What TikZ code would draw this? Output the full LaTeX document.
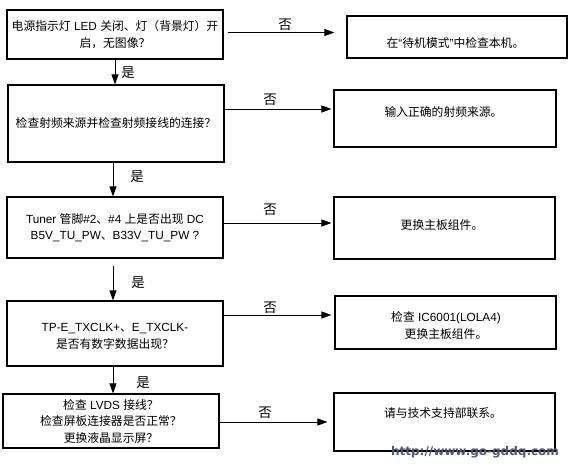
\documentclass[tikz,border=0pt]{standalone}
\usepackage{fontspec}
\setmainfont{Liberation Sans}
\newfontfamily\zhf{Noto Sans CJK SC}
\newfontfamily\wmf{DejaVu Sans}
\newcommand\zh[1]{{\zhf #1}}
\usetikzlibrary{arrows.meta}
\definecolor{wmcol}{RGB}{78,88,120}
\begin{document}
\begin{tikzpicture}[x=1pt,y=-1pt,
  box/.style={draw, line width=1.1pt, inner sep=0pt},
  txt/.style={align=center, font=\fontsize{11.8}{16.5}\selectfont, inner sep=0pt},
  arr/.style={line width=0.9pt, -{Triangle[length=10pt,width=7pt]}},
  lbl/.style={font=\fontsize{13.5}{13.5}\selectfont\zhf, inner sep=0pt}]
\useasboundingbox (0,0) rectangle (568,467);
\fill[white] (0,0) rectangle (568,467);

% left column
\node[box, txt, minimum width=216pt, minimum height=49pt] (b1) at (115,34.5)
  {\zh{电源指示灯} LED \zh{关闭、灯（背景灯）开}\\\zh{启，无图像？}};
\node[box, txt, minimum width=216pt, minimum height=77pt] (b2) at (116,123.5)
  {\zh{检查射频来源并检查射频接线的连接？}};
\node[box, txt, minimum width=216pt, minimum height=61pt] (b3) at (115,227.5)
  {Tuner \zh{管脚}\#2\zh{、}\#4 \zh{上是否出现} DC\\B5V\_TU\_PW\zh{、}B33V\_TU\_PW ?};
\node[box, minimum width=216pt, minimum height=65pt] (b4) at (115,333.5) {};
\node[txt] (t4) at (115,336.5) {TP-E\_TXCLK+\zh{、}E\_TXCLK-\\\zh{是否有数字数据出现？}};
\node[box, txt, minimum width=216pt, minimum height=54pt] (b5) at (111,421)
  {\zh{检查} LVDS \zh{接线？}\\\zh{检查屏板连接器是否正常？}\\\zh{更换液晶显示屏？}};

% right column
\node[box, minimum width=220pt, minimum height=42pt] (r1) at (457,37) {};
\node[txt] (s1) at (455.5,43) {\zh{在}“\zh{待机模式}”\zh{中检查本机。}};
\node[box, minimum width=222pt, minimum height=57pt] (r2) at (445,118.5) {};
\node[txt] (s2) at (443.5,112) {\zh{输入正确的射频来源。}};
\node[box, minimum width=221pt, minimum height=62pt] (r3) at (444.5,228) {};
\node[txt] (s3) at (442,225) {\zh{更换主板组件。}};
\node[box, minimum width=221pt, minimum height=53pt] (r4) at (445.5,322.5) {};
\node[txt] (s4) at (446,325.5) {\zh{检查} IC6001(LOLA4)\\\zh{更换主板组件。}};
\node[box, minimum width=221pt, minimum height=58pt] (r5) at (444.5,422) {};
\node[txt] (s5) at (443,413) {\zh{请与技术支持部联系。}};

% row levels
\coordinate (y1) at (0,32.5);
\coordinate (y2) at (0,109);
\coordinate (y3) at (0,223);
\coordinate (y4) at (0,315);
\coordinate (y5) at (0,422);

% "no" connectors
\draw[arr, shorten <=4pt, shorten >=12pt] (b1.east |- y1) -- (r1.west |- y1);
\draw[arr, shorten >=2pt] (b2.east |- y2) -- (r2.west |- y2);
\draw[arr, shorten >=2pt] (b3.east |- y3) -- (r3.west |- y3);
\draw[arr, shorten >=3pt] (b4.east |- y4) -- (r4.west |- y4);
\draw[arr, shorten >=6pt] (b5.east |- y5) -- (r5.west |- y5);

% "yes" connectors
\draw[arr] (b1.south) -- (b1.south |- b2.north);
\draw[arr] (b2.south -| 113,0) -- (b3.north -| 113,0);
\draw[arr, shorten <=7pt] (b3.south -| 113,0) -- (b4.north -| 113,0);
\draw[arr] (b4.south -| 113,0) -- (b5.north -| 113,0);

% labels
\node[lbl] (n1) at (285,25) {否};
\node[lbl] (n2) at (270,100) {否};
\node[lbl] (n3) at (270,210) {否};
\node[lbl] (n4) at (270,308) {否};
\node[lbl] (n5) at (265,413) {否};
\node[lbl] (y1l) at (128,73) {是};
\node[lbl] (y2l) at (137,177) {是};
\node[lbl] (y3l) at (138,283) {是};
\node[lbl] (y4l) at (143,383) {是};

% watermark
\node[font=\wmf\bfseries\fontsize{12}{12}\selectfont, text=wmcol, inner sep=0pt] (wm) at (475,452) {http://www.go-gddq.com};
\end{tikzpicture}
\end{document}
